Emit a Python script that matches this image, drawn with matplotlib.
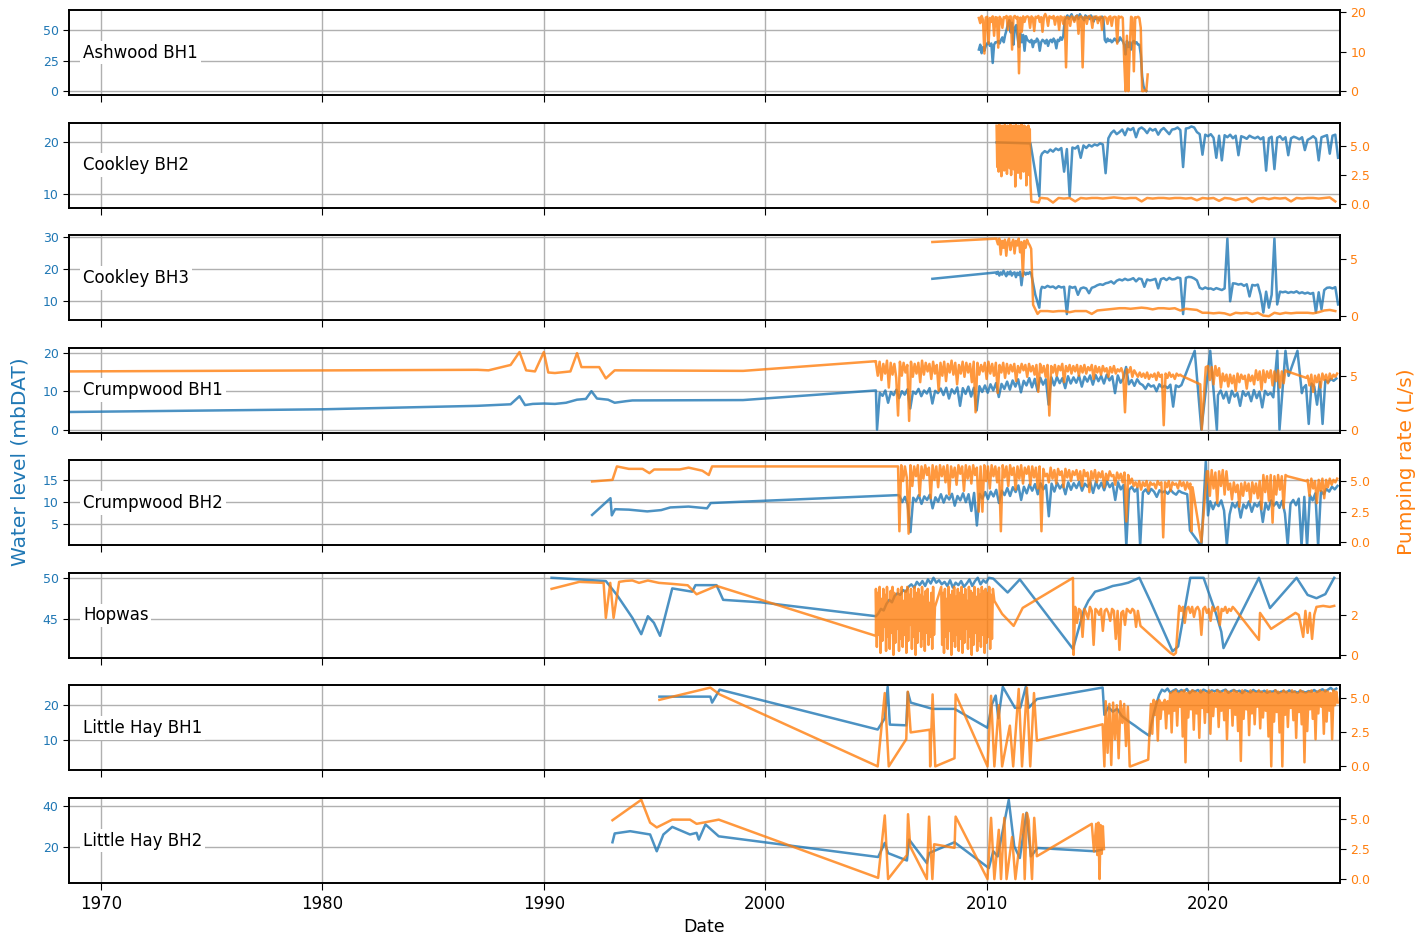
import numpy as np
import pandas as pd
import matplotlib
matplotlib.use("Agg")
import matplotlib.pyplot as plt
import matplotlib.dates as mdates
from matplotlib.ticker import FormatStrFormatter

BLUE = "#1f77b4"
ORANGE = "#ff7f0e"

# ---------------------------------------------------------------------------
# Borehole records: water level (mbDAT) and pumping rate (L/s).
# Regular runs are given as start year + step + values, sparse readings as
# (decimal year, value) pairs.
# ---------------------------------------------------------------------------

# Ashwood BH1
ashwood_start = 2009.65
ashwood_level = [34, 38, 31, 36, 33, 37,
                 39, 40, 37, 39, 23, 38, 40,
                 40, 41, 39, 42, 44, 40, 46,
                 50, 55, 58, 48, 56, 38, 52, 54,
                 44, 36, 47, 40, 46, 33, 45, 42,
                 41, 40, 42, 36, 41, 40, 43, 41, 33, 40, 42, 41, 39, 42, 37, 41, 42, 40, 43, 41, 35, 42, 41, 44, 42, 45,
                 58, 60, 62, 59, 61, 63, 60, 58, 61, 62, 59, 63, 61, 60, 58, 62, 60, 61, 59, 62, 60, 57, 61, 59, 60, 58, 60, 61, 59,
                 42, 40, 43, 41, 42, 40, 41, 43, 42, 40, 41, 44, 42, 41,
                 38, 30, 41, 36, 40, 34, 40, 41, 39, 40, 38,
                 38, 30, 12, 4, 1, 0]
ashwood_rate = [18.5, 17.2, 19.0, 18.0, 9.5, 18.6,
                18.8, 12.0, 18.5, 17.5, 18.9, 14.0, 18.7,
                18.6, 11.0, 18.8, 18.2, 16.0, 18.7, 18.5,
                19.0, 15.5, 18.8, 18.9, 10.5, 18.7, 19.0, 18.4,
                18.8, 4.5, 18.6, 15.0, 18.9, 17.5, 18.7, 18.9,
                18.7, 16.0, 18.9, 18.5, 15.2, 18.8, 18.6, 19.0, 17.5, 18.7, 15.0, 18.8, 19.5, 18.6, 16.5, 18.9,
                18.7, 18.4, 19.0, 16.8, 18.6, 18.8, 15.5, 18.9, 18.7, 17.0,
                18.8, 6.0, 18.7, 18.5, 16.5, 18.9, 18.6, 17.5, 18.8, 19.0, 14.5, 18.7, 18.9, 6.0, 18.6,
                18.8, 17.0, 18.7, 19.0, 18.5, 16.0, 18.8, 18.6, 18.9, 17.2, 18.7, 18.8, 15.5, 18.6,
                18.8, 18.5, 17.0, 18.7, 18.9, 16.5, 18.6, 18.8, 18.7, 12.0, 18.9, 18.6, 18.8, 18.5,
                8.0, 0.0, 14.0, 0.0, 10.0, 18.8, 18.5, 5.0, 18.7, 18.6, 18.8,
                18.5, 16.0, 0.0, 0.0, 0.2, 0.0, 4.2]

# Cookley BH2
cookley2_level_early = [(2010.45, 20.0), (2011.98, 19.8), (2012.38, 9.5), (2012.45, 17.2)]
cookley2_level_start = 2012.5
cookley2_level = [17.8, 18.3, 18.0, 18.6,
                  18.2, 18.8, 18.5, 18.9, 14.3, 18.7, 9.5, 19.0,
                  18.8, 19.3, 17.0, 19.4, 18.9, 19.5, 19.2, 19.6,
                  19.4, 19.8, 19.6, 14.0, 20.8, 21.8, 22.3, 21.6,
                  22.0, 22.5, 21.4, 22.7, 22.4, 22.8, 21.0, 22.6,
                  22.9, 22.5, 21.8, 22.7, 22.3, 22.6, 21.5, 22.4,
                  22.8, 22.2, 21.6, 22.5, 22.6, 22.9, 22.4, 15.2,
                  22.7, 22.8, 23.1, 22.9, 22.0, 21.6, 17.6, 21.5,
                  21.2, 21.6, 20.9, 17.0, 21.3, 16.5, 21.4, 21.0,
                  21.5, 20.8, 21.3, 17.5, 21.2, 21.0, 20.7, 21.3,
                  21.0, 20.8, 21.1, 20.6, 21.0, 14.5, 20.8, 21.1,
                  14.8, 20.9, 21.2, 20.5, 21.0, 17.5, 20.8, 21.1,
                  20.9, 20.6, 21.0, 18.5, 20.5, 20.8, 21.2, 20.7,
                  16.5, 21.0, 21.2, 21.4, 17.8, 21.3, 21.5, 17.0]
cookley2_rate_start = 2010.45
cookley2_rate_early = [6.8, 3.2, 6.7, 2.8, 6.9, 3.5, 6.6, 2.4, 6.8, 3.8, 6.7, 2.9, 6.9, 3.3, 6.5, 2.6,
                       6.8, 4.0, 6.7, 3.1, 6.9, 2.5, 6.6, 3.6, 6.8, 3.0, 6.7, 1.5, 6.9, 3.4, 6.6, 2.7,
                       6.8, 3.9, 6.7, 2.2, 6.9, 3.2, 6.5, 2.8, 6.8, 3.5, 6.7, 1.6, 6.6, 3.0, 6.8, 2.5,
                       6.5, 1.7]
cookley2_rate_drop = [(2012.02, 0.2), (2012.35, 0.1), (2012.42, 0.5)]
cookley2_rate_late_start = 2012.5
cookley2_rate_late = [0.5, 0.45, 0.1, 0.5, 0.45, 0.5, 0.2, 0.5, 0.45, 0.5, 0.5, 0.45,
                      0.5, 0.55, 0.5, 0.45, 0.5, 0.5, 0.2, 0.5, 0.45, 0.5, 0.5, 0.45,
                      0.5, 0.5, 0.45, 0.5, 0.3, 0.5, 0.45, 0.5, 0.25, 0.5, 0.45, 0.3,
                      0.45, 0.5, 0.15, 0.45, 0.5, 0.4, 0.5, 0.45, 0.5, 0.2, 0.5, 0.45,
                      0.5, 0.5, 0.45, 0.5, 0.55, 0.2]

# Cookley BH3
cookley3_level_early = [(2007.55, 17.0), (2010.45, 19.0)]
cookley3_level_mid_start = 2010.45
cookley3_level_mid = [18.5, 19.2, 18.0, 19.0, 18.3, 19.5, 18.6, 17.8, 19.1, 18.4, 19.3, 18.0, 18.8,
                      19.0, 17.5, 18.9, 18.2, 19.2, 15.0, 18.6, 19.0, 18.3, 18.9, 18.5, 19.1, 18.7]
cookley3_level_drop = [(2012.2, 12.0), (2012.38, 8.0), (2012.45, 13.5)]
cookley3_level_late_start = 2012.5
cookley3_level_late = [14.5, 14.2, 14.8, 14.4, 14.6, 14.0, 14.7, 14.3,
                       14.5, 6.0, 14.6, 14.2, 14.5, 12.0, 14.0, 14.3,
                       14.0, 12.5, 14.2, 14.5, 15.0, 15.3, 15.1, 15.6,
                       15.8, 16.2, 15.5, 16.4, 16.8, 16.5, 17.0, 16.6,
                       16.8, 17.2, 16.2, 17.1, 16.9, 14.5, 16.8, 16.5,
                       16.7, 17.0, 14.0, 16.9, 17.2, 16.6, 17.3, 16.8,
                       16.9, 17.4, 17.2, 6.0, 17.3, 17.6, 17.5, 17.1,
                       16.5, 14.2, 13.8, 14.3, 13.9, 14.0, 13.6, 14.1,
                       13.8, 13.5, 14.0, 29.5, 10.0, 15.6, 15.5, 15.2,
                       15.4, 14.8, 15.3, 11.5, 15.1, 14.9, 15.2, 12.0,
                       6.5, 13.0, 8.0, 12.0, 29.5, 9.0, 13.0, 12.8,
                       13.0, 12.6, 12.9, 12.7, 13.1, 12.5, 12.8, 12.4,
                       12.7, 12.3, 12.6, 6.5, 12.8, 7.5, 13.5, 14.2,
                       14.3, 14.0, 14.4, 9.0]
cookley3_rate_early = [(2007.55, 6.5), (2010.45, 6.8)]
cookley3_rate_mid_start = 2010.45
cookley3_rate_mid = [6.7, 6.3, 6.8, 5.4, 6.6, 6.0, 6.7, 5.3, 6.5, 6.8, 5.8, 6.4, 6.7,
                     5.5, 6.6, 6.2, 6.8, 5.6, 6.5, 3.5, 6.6, 6.0, 6.7, 6.4, 6.2, 5.9]
cookley3_rate_drop = [(2012.1, 1.0), (2012.3, 0.2), (2012.42, 0.45)]
cookley3_rate_late_start = 2012.5
cookley3_rate_late = [0.45, 0.45, 0.4, 0.45, 0.45, 0.35, 0.45, 0.45, 0.45, 0.2, 0.5, 0.55,
                      0.6, 0.65, 0.7, 0.7, 0.65, 0.7, 0.75, 0.7, 0.6, 0.7, 0.7, 0.65,
                      0.7, 0.5, 0.65, 0.6, 0.55, 0.3, 0.3, 0.25, 0.3, 0.25, 0.1, 0.3,
                      0.25, 0.3, 0.2, 0.3, 0.05, 0.0, 0.3, 0.2, 0.3, 0.25, 0.3, 0.3,
                      0.3, 0.25, 0.35, 0.5, 0.55, 0.45]

# Crumpwood BH1
crump1_level_early = [(1968.6, 4.6), (1980.0, 5.3), (1987.0, 6.2), (1988.5, 6.6), (1988.9, 8.7),
                      (1989.15, 6.4), (1989.5, 6.7), (1990.0, 6.8), (1990.5, 6.7), (1991.0, 7.0),
                      (1991.5, 7.8), (1991.9, 8.0), (1992.15, 10.0), (1992.4, 8.1), (1992.9, 7.8),
                      (1993.2, 7.0), (1993.7, 7.4), (1994.0, 7.6), (1999.0, 7.7), (2005.0, 10.2)]
crump1_level_a_start = 2005.05
crump1_level_a = [0.0, 9.6, 8.8, 10.2, 7.0, 9.8, 9.0, 10.4,
                  8.2, 10.0, 9.1, 10.5, 5.5, 9.9, 9.3, 10.6,
                  8.7, 10.2, 9.4, 10.8, 6.8, 10.1, 9.5, 10.7,
                  9.0, 10.9, 8.1, 10.5, 9.4, 11.0, 6.2, 10.8,
                  9.3, 11.2, 8.6, 10.9, 5.0, 11.3, 9.8, 11.5,
                  9.6, 11.8, 10.2, 12.1, 8.5, 11.9, 10.6, 12.5,
                  10.4, 12.8, 11.2, 13.1, 9.7, 12.7, 11.5, 13.4,
                  11.0, 13.2, 10.1, 13.5, 11.7, 13.1, 6.5, 13.6,
                  11.5, 13.7, 12.1, 13.4, 10.8, 13.9, 12.0, 13.6,
                  12.2, 14.0, 11.2, 13.8, 12.5, 14.1, 11.7, 14.2,
                  12.6, 14.0, 12.0, 14.3, 12.8, 13.9, 9.5, 14.1,
                  12.2, 13.3, 16.3, 11.8, 12.9, 11.4, 13.1, 12.0,
                  11.6, 10.6, 11.9, 11.2, 11.5, 10.0, 11.8, 11.0,
                  11.4, 10.8, 11.7, 6.0, 11.5, 11.1, 11.6]
crump1_level_swings = [(2019.4, 20.5), (2019.7, 0.0), (2020.1, 20.5), (2020.4, 0.0)]
crump1_level_b_start = 2020.45
crump1_level_b = [9.0, 10.2, 8.1, 9.8, 7.0, 10.1, 8.6, 9.5, 6.2, 10.0, 8.8, 9.7, 7.4, 10.3,
                  8.2, 9.9, 5.8, 10.1, 9.0, 9.6, 8.4]
crump1_level_spikes = [(2023.13, 20.5), (2023.23, 0.0), (2023.5, 20.5), (2023.64, 14.0),
                       (2024.04, 20.5), (2024.24, 9.5)]
crump1_level_c_start = 2024.3
crump1_level_c = [10.8, 11.6, 1.5, 12.0, 11.2, 6.5, 12.4, 1.5, 12.9, 12.3, 13.2, 12.7, 13.3]

crump1_rate_early = [(1968.6, 5.4), (1987.0, 5.55), (1987.5, 5.5), (1988.5, 6.0), (1988.9, 7.2),
                     (1989.2, 5.5), (1989.6, 5.4), (1990.0, 7.2), (1990.2, 5.3), (1990.5, 5.25),
                     (1991.2, 5.4), (1991.5, 7.1), (1991.7, 5.8), (1992.5, 5.8), (1992.8, 4.75),
                     (1993.2, 5.5), (1999.0, 5.45), (2005.0, 6.35)]
crump1_rate_a_start = 2005.0
crump1_rate_a = [6.2, 5.0, 6.3, 4.6, 6.1, 5.2, 6.4, 3.9, 6.2, 5.1, 6.1, 4.8,
                 1.3, 6.3, 5.0, 6.2, 5.3, 6.0, 0.8, 6.3, 4.9, 6.1, 5.2, 6.2,
                 4.4, 6.4, 5.1, 6.2, 5.4, 6.1, 4.7, 6.3, 5.2, 6.0, 3.6, 6.2,
                 5.0, 6.3, 4.5, 6.1, 5.3, 6.4, 5.1, 6.2, 4.2, 6.0, 5.2, 6.3,
                 4.9, 6.2, 5.3, 6.1, 4.4, 6.3, 1.6, 6.2, 5.1, 6.0, 5.4, 6.2,
                 4.7, 6.3, 5.2, 6.1, 5.0, 6.2, 3.4, 6.0, 5.3, 6.2, 4.8, 6.1,
                 5.2, 6.0, 5.4, 6.1, 4.5, 5.9, 5.3, 6.1, 5.5, 6.0, 4.9, 6.1,
                 5.4, 5.9, 5.1, 6.0, 3.5, 6.1, 5.3, 5.9, 4.9, 6.0, 1.3, 5.9,
                 5.3, 6.0, 5.0, 5.9, 5.5, 6.1, 4.4, 5.9, 5.4, 6.0, 5.2, 5.9,
                 5.4, 6.0, 5.0, 5.9, 5.3, 6.0, 5.2, 5.8, 5.5, 6.0, 4.7, 5.9,
                 5.3, 5.8, 5.1, 5.9, 5.4, 5.7, 4.9, 5.8, 5.3, 5.9, 5.2, 5.6,
                 5.4, 5.7, 5.2, 1.6, 5.6, 5.3, 5.8, 4.9, 5.5, 5.2, 4.9, 5.3,
                 4.9, 5.2, 4.8, 5.3, 4.7, 5.1, 4.9, 5.2, 4.6, 5.3, 4.9, 5.1,
                 0.4, 5.2, 4.8, 5.3, 4.9, 5.1, 4.7, 5.2, 5.0, 5.1]
crump1_rate_gap = [(2018.8, 5.0), (2019.65, 4.2), (2019.72, 0.0), (2019.9, 5.8)]
crump1_rate_b_start = 2020.0
crump1_rate_b = [5.9, 4.6, 5.8, 4.2, 5.9, 5.0, 5.7, 3.9, 5.2, 4.5, 5.1, 4.0,
                 5.1, 4.3, 5.0, 3.6, 5.2, 4.4, 5.1, 4.7, 5.0, 3.8, 5.1, 4.5,
                 5.0, 4.2, 5.5, 4.6, 5.4, 3.7, 5.5, 4.4, 5.4, 4.8, 5.5, 4.1,
                 5.4, 4.5, 5.5, 3.9, 5.4, 4.3, 5.5, 5.4]
crump1_rate_gap2 = [(2024.44, 4.8)]
crump1_rate_c_start = 2024.5
crump1_rate_c = [5.0, 4.1, 5.1, 3.5, 5.0, 4.4, 5.1, 3.9, 5.2, 4.6, 5.1, 4.3, 5.2, 4.7, 5.1, 4.9, 5.2]

# Crumpwood BH2
crump2_level_early = [(1992.18, 7.1), (1993.01, 10.9), (1993.07, 7.0), (1993.22, 8.4), (1993.84, 8.3),
                      (1994.67, 7.9), (1995.3, 8.2), (1995.71, 8.8), (1996.54, 9.0), (1997.37, 8.6),
                      (1997.54, 9.8), (2006.0, 11.6)]
crump2_level_a_start = 2006.06
crump2_level_a = [11.5, 10.0, 11.2, 9.5, 3.2, 11.0, 10.2, 11.6,
                  9.6, 11.3, 10.5, 11.7, 8.6, 11.1, 10.1, 11.8,
                  9.9, 11.5, 10.6, 11.9, 9.2, 11.4, 10.4, 12.0,
                  10.0, 11.8, 8.0, 12.1, 4.7, 11.9, 10.8, 12.3,
                  10.7, 12.4, 11.3, 12.8, 9.8, 12.6, 11.6, 13.2,
                  11.4, 13.4, 12.3, 13.8, 10.5, 13.5, 12.0, 14.0,
                  12.6, 14.1, 11.8, 14.3, 12.9, 13.9, 6.8, 14.2,
                  12.4, 14.4, 13.1, 14.0, 11.8, 14.5, 12.8, 14.3,
                  13.2, 14.6, 12.6, 14.2, 13.5, 14.5, 12.1, 14.6,
                  13.1, 14.4, 12.7, 14.7, 13.4, 14.3, 10.5, 14.5,
                  12.9, 13.9, 0.0, 12.8, 13.5, 12.4, 13.2, 0.0,
                  12.2, 12.9, 11.9, 13.0, 12.4, 11.2, 12.7, 12.2,
                  12.5, 11.9, 12.8, 12.1, 11.7, 12.6, 12.2, 12.0,
                  11.8, 3.6]
crump2_level_swing = [(2019.7, 0.0), (2019.9, 19.2), (2020.0, 7.0)]
crump2_level_b_start = 2020.1
crump2_level_b = [10.2, 8.4, 9.9, 9.1, 10.4, 8.1, 0.3, 7.2,
                  9.8, 8.8, 10.0, 6.5, 9.5, 8.6, 10.2, 7.8,
                  9.7, 9.0, 10.1, 5.5, 9.8, 8.3, 10.4, 9.2,
                  10.0, 8.7, 10.3, 7.4, 0.2, 9.6, 10.5, 9.3,
                  10.8, 0.0, 11.2, 0.0, 11.6, 10.4, 12.0, 0.0,
                  12.5, 11.8, 13.0, 12.4, 13.5, 12.9, 13.7]

crump2_rate_early = [(1992.18, 4.97), (1993.1, 5.1), (1993.3, 6.2), (1993.84, 6.0), (1994.46, 6.0),
                     (1994.77, 5.65), (1994.98, 5.95), (1996.13, 5.95), (1996.54, 6.1), (1997.16, 5.85),
                     (1997.45, 5.5), (1997.6, 6.2), (2006.0, 6.2)]
crump2_rate_a_start = 2006.06
crump2_rate_a = [0.9, 6.3, 5.0, 6.2, 5.3, 0.7, 6.3, 4.6, 6.2, 5.4, 6.3, 3.8,
                 6.2, 5.2, 6.3, 5.5, 6.1, 3.6, 6.3, 5.1, 6.2, 4.5, 6.3, 5.4,
                 6.2, 4.9, 6.3, 3.9, 6.2, 5.3, 6.1, 4.7, 6.3, 5.6, 6.2, 4.2,
                 6.3, 5.2, 6.2, 4.8, 6.3, 5.5, 6.1, 2.5, 6.2, 2.5, 6.3, 5.0,
                 6.2, 4.4, 6.3, 5.4, 6.2, 4.9, 6.1, 0.9, 6.3, 5.3, 6.2, 4.6,
                 6.3, 5.5, 6.1, 4.3, 6.2, 5.2, 6.3, 4.8, 6.1, 5.6, 6.2, 4.7,
                 6.2, 5.3, 6.1, 4.4, 6.2, 0.9, 6.0, 5.4, 5.6, 4.9, 6.1, 5.2,
                 5.9, 4.8, 6.0, 5.5, 5.8, 4.5, 6.0, 5.3, 5.9, 5.0, 5.8, 5.5,
                 5.9, 5.1, 5.8, 4.6, 5.9, 5.4, 5.7, 4.1, 5.8, 5.2, 5.9, 4.9,
                 5.7, 5.3, 5.8, 4.5, 5.6, 5.1, 5.8, 5.4, 5.5, 4.7, 5.7, 5.2,
                 5.6, 4.9, 5.7, 1.7, 5.5, 4.8, 5.2, 4.6, 4.9, 4.5, 5.0, 4.3,
                 4.9, 4.6, 5.0, 4.2, 4.9, 4.7, 4.8, 4.4, 5.0, 4.7, 4.9, 0.4,
                 4.9, 4.5, 5.0, 4.2, 4.9, 4.7, 4.8, 4.4, 5.0, 4.6, 4.9, 4.3,
                 4.9, 4.4]
crump2_rate_gap = [(2019.2, 4.8), (2019.25, 0.9), (2019.3, 4.5), (2019.7, 0.0), (2019.95, 5.8)]
crump2_rate_b_start = 2020.0
crump2_rate_b = [5.8, 3.8, 5.9, 4.4, 5.7, 3.2, 5.8, 4.6, 5.9, 3.9, 5.8, 4.3,
                 4.8, 3.5, 4.9, 4.1, 4.7, 2.9, 4.8, 3.8, 4.9, 4.2, 4.8, 3.3,
                 4.9, 4.0, 4.8, 3.6, 5.0, 2.7, 5.5, 4.1, 5.4, 3.4, 5.5, 1.6,
                 5.4, 3.9, 5.5, 4.3, 5.4, 2.8, 5.5, 5.4]
crump2_rate_gap2 = [(2024.44, 5.0)]
crump2_rate_c_start = 2024.5
crump2_rate_c = [5.1, 3.8, 5.2, 4.4, 5.0, 3.2, 5.1, 4.2, 5.2, 3.6, 5.1, 4.5, 5.2, 4.7, 5.1, 4.9, 5.2]

# Hopwas
hopwas_level_early = [(1990.35, 50.0), (1992.8, 49.6), (1993.3, 47.9), (1994.0, 45.1), (1994.4, 43.1),
                      (1994.7, 45.3), (1994.97, 44.5), (1995.25, 42.9), (1995.8, 48.7), (1996.7, 48.3),
                      (1996.85, 49.1), (1997.8, 49.1), (1998.1, 47.3), (1999.8, 47.0), (2005.0, 45.3)]
hopwas_level_mid_start = 2005.1
hopwas_level_mid = [45.6, 46.2, 46.0, 46.8, 47.3, 47.0, 47.8, 48.1,
                    47.9, 48.5, 48.3, 48.9, 49.2, 48.8, 49.5, 49.1,
                    49.6, 49.0, 49.8, 49.3, 50.0, 49.4, 49.7, 49.2,
                    49.5, 49.0, 49.7, 48.8, 49.4, 49.1, 49.6, 48.9,
                    49.3, 49.8, 49.0, 49.6, 50.0, 49.2, 49.7, 49.4,
                    50.0]
hopwas_level_late = [(2010.3, 49.9), (2010.95, 48.2), (2011.5, 49.8), (2013.9, 41.3), (2014.4, 46.1),
                     (2014.6, 47.2), (2014.9, 48.3), (2015.3, 48.6), (2015.7, 49.0), (2016.1, 49.2),
                     (2016.4, 49.4), (2016.9, 50.0), (2017.4, 47.1), (2018.4, 41.0), (2018.65, 41.6),
                     (2019.2, 50.0), (2019.8, 50.0), (2020.35, 45.7), (2020.6, 43.4), (2020.7, 41.4),
                     (2022.3, 50.0), (2022.8, 46.3), (2024.0, 50.0), (2024.5, 47.9), (2024.9, 47.5),
                     (2025.3, 48.0), (2025.7, 50.0)]
hopwas_rate_early = [(1990.35, 3.3), (1991.6, 3.65), (1992.7, 3.6), (1992.8, 1.85), (1993.0, 3.6),
                     (1993.15, 1.85), (1993.4, 3.65), (1993.7, 3.7), (1994.0, 3.72), (1994.3, 3.6),
                     (1994.7, 3.72), (1995.2, 3.6), (1995.8, 3.55), (1996.5, 3.48), (1996.9, 3.03),
                     (1997.8, 3.45), (2005.0, 0.95)]
hopwas_rate_a_start = 2005.0
hopwas_rate_a = [3.3, 0.4, 3.1, 1.0, 3.4, 0.1, 2.8, 0.7, 3.3, 1.4, 3.0, 0.2, 3.4, 0.9, 2.6, 0.3,
                 3.2, 1.1, 3.4, 0.0, 3.1, 0.6, 2.9, 1.3, 3.3, 0.2, 3.0, 0.8, 3.4, 0.4, 2.7, 1.0,
                 3.2, 0.1, 3.4, 0.7, 3.0, 1.5, 3.3, 0.3, 2.8, 0.9, 3.4, 0.0, 3.1, 0.6, 3.3, 1.2,
                 3.0, 0.4, 3.4, 0.8, 2.9, 0.2, 3.2, 1.1, 3.3, 0.5, 2.6, 0.9, 3.1, 0.3, 3.4, 1.0, 2.4]
hopwas_rate_b_start = 2007.95
hopwas_rate_b = [3.4, 0.5, 3.1, 0.1, 3.3, 0.9, 2.8, 0.3, 3.4, 1.2, 3.0, 0.0, 3.2, 0.7, 3.4, 0.4,
                 2.9, 1.0, 3.3, 0.2, 3.1, 0.8, 3.4, 0.1, 3.0, 0.6, 3.3, 1.3, 2.7, 0.3, 3.4, 0.9,
                 3.2, 0.0, 3.1, 0.5, 3.4, 1.1, 2.9, 0.2, 3.3, 0.7, 3.0, 0.4, 3.4, 1.0, 3.2, 0.1,
                 3.3, 0.6, 3.1, 0.9, 3.4, 0.3, 3.0, 0.8, 3.3]
hopwas_rate_mid = [(2010.35, 2.7), (2010.7, 2.05), (2011.22, 1.45), (2011.63, 2.35), (2013.9, 3.85),
                   (2013.93, 0.0)]
hopwas_rate_c_start = 2014.0
hopwas_rate_c = [2.4, 1.6, 2.3, 2.2, 0.9, 2.3, 2.1, 1.8, 2.4, 2.2, 0.5, 2.3,
                 2.2, 2.0, 2.3, 1.2, 2.2, 2.3, 2.1, 1.7, 2.3, 2.2, 0.8, 2.2,
                 0.25, 2.1, 2.2, 1.5, 2.3, 2.2, 2.1, 2.3, 2.2, 1.4, 2.2]
hopwas_rate_gap = [(2016.95, 1.45), (2018.3, 0.1), (2018.45, 0.0), (2018.55, 0.1)]
hopwas_rate_d_start = 2018.7
hopwas_rate_d = [2.45, 2.2, 2.4, 1.6, 2.3, 2.4, 2.1, 2.4, 1.9, 2.3, 2.4, 2.2,
                 1.0, 2.3, 2.4, 2.1, 2.3, 1.7, 2.4, 2.2, 2.3, 2.4, 1.5, 2.3,
                 2.2, 2.4, 2.1, 2.3, 2.2, 2.4, 2.3]
hopwas_rate_late = [(2022.3, 0.75), (2022.35, 2.1), (2022.85, 1.3), (2023.95, 2.1), (2024.1, 2.0),
                    (2024.3, 0.9), (2024.4, 2.2), (2024.5, 1.1), (2024.6, 2.1), (2024.7, 0.8),
                    (2024.8, 2.0), (2024.9, 2.4), (2025.2, 2.45), (2025.5, 2.4), (2025.7, 2.45)]

# Little Hay BH1
lh1_level_early = [(1995.22, 22.5), (1997.52, 22.5), (1997.6, 20.8), (1997.94, 24.5), (2005.08, 13.1),
                   (2005.4, 16.3), (2005.53, 25.3), (2005.63, 14.5), (2006.37, 14.3), (2006.44, 23.8),
                   (2006.57, 20.8), (2007.56, 19.0), (2008.55, 19.0), (2010.04, 13.6), (2010.24, 20.3),
                   (2010.41, 22.8), (2010.53, 16.3), (2010.73, 25.3), (2011.28, 19.3), (2011.52, 19.3),
                   (2011.77, 25.3), (2011.9, 19.3), (2012.27, 21.8), (2015.24, 25.1), (2015.32, 17.3),
                   (2015.5, 19.5), (2015.7, 18.2), (2015.9, 19.0), (2016.1, 17.0), (2016.4, 15.5),
                   (2016.7, 14.2), (2017.0, 12.8), (2017.35, 11.3)]
lh1_level_start = 2017.42
lh1_level = [14.0, 17.5, 20.5, 23.0, 24.5, 24.0, 24.8, 23.6,
             24.2, 24.6, 23.8, 24.4, 24.0, 24.7, 23.5, 24.3,
             24.0, 24.4, 23.7, 24.5, 24.1, 23.6, 24.3, 24.0,
             24.4, 23.8, 24.2, 24.5, 23.6, 24.1, 24.4, 23.9,
             24.2, 23.5, 24.3, 24.0, 23.7, 24.4, 23.9, 24.1,
             23.8, 24.2, 23.6, 24.0, 23.9, 24.3, 23.5, 23.9,
             24.1, 23.7, 24.3, 23.8, 24.0, 23.6, 24.2, 23.9,
             23.7, 24.1, 23.9, 24.4, 23.8, 24.2, 24.6, 24.0,
             24.5, 25.0, 24.3, 24.8]
lh1_rate_early = [(1995.22, 4.9), (1997.52, 5.8), (1997.94, 5.3), (2005.08, 0.0), (2005.4, 5.4),
                  (2005.58, 0.0), (2006.37, 2.0), (2006.44, 5.5), (2006.57, 2.5), (2007.43, 2.7),
                  (2007.45, 0.0), (2007.56, 5.3), (2007.68, 0.0), (2008.55, 0.6), (2008.6, 5.3),
                  (2010.04, 0.0), (2010.2, 5.2), (2010.35, 0.0), (2010.55, 4.5), (2010.7, 0.0),
                  (2011.05, 3.0), (2011.2, 0.0), (2011.45, 5.7), (2011.6, 0.0), (2011.82, 5.8),
                  (2011.97, 0.0), (2012.14, 5.4), (2012.27, 1.9), (2015.24, 3.1), (2015.32, 0.0)]
lh1_rate_mid_start = 2015.38
lh1_rate_mid = [4.8, 1.0, 4.6, 0.1, 4.7, 2.0, 4.5, 0.6, 4.8, 3.2, 4.6, 1.5, 4.4, 0.0]
lh1_rate_gap = [(2016.5, 0.0), (2017.3, 0.5)]
lh1_rate_start = 2017.42
lh1_rate = [4.6, 2.4, 4.9, 3.8, 4.8, 1.9, 4.9, 3.5, 4.7, 4.2, 4.9, 2.8, 4.8, 3.9, 5.4, 2.5,
            5.5, 4.1, 5.6, 3.0, 5.4, 4.4, 5.5, 2.2, 5.6, 0.3, 5.4, 3.6, 5.5, 4.2, 5.6, 2.7,
            5.5, 3.9, 5.4, 2.1, 5.6, 4.3, 5.5, 3.2, 5.4, 4.0, 5.6, 2.4, 5.5, 3.7, 5.4, 4.4,
            5.6, 2.9, 5.5, 4.1, 5.4, 3.4, 5.6, 2.0, 5.5, 4.3, 5.4, 3.0, 5.6, 3.8, 5.5, 2.6,
            5.4, 0.4, 5.6, 3.5, 5.5, 4.2, 5.4, 2.3, 5.6, 3.9, 5.5, 3.1, 5.4, 4.4, 5.6, 2.8,
            5.5, 3.6, 5.4, 4.1, 5.6, 2.2, 5.5, 0.0, 5.4, 3.3, 5.6, 4.0, 5.5, 2.5, 5.4, 0.0,
            5.6, 3.8, 5.5, 2.9, 5.4, 4.3, 5.6, 3.4, 5.5, 2.1, 5.4, 4.0, 5.6, 3.1, 5.5, 0.3,
            5.4, 2.6, 5.5, 4.2, 5.6, 3.5, 5.4, 2.0, 5.5, 3.9, 5.6, 4.4, 5.5, 2.4, 5.6, 3.3,
            5.5, 4.1, 5.4, 2.0, 5.6, 4.5, 5.5, 4.7]

# Little Hay BH2
lh2_level = [(1993.1, 22.3), (1993.2, 26.6), (1993.9, 27.7), (1994.8, 26.1), (1995.1, 17.9),
             (1995.4, 26.1), (1995.8, 29.8), (1996.6, 26.1), (1996.9, 26.9), (1997.0, 23.6),
             (1997.3, 31.0), (1997.9, 25.2), (2005.1, 15.1), (2005.4, 22.0), (2005.55, 17.0),
             (2006.4, 13.4), (2006.5, 23.6), (2007.3, 12.1), (2007.4, 17.0), (2008.55, 22.3),
             (2010.1, 9.7), (2010.3, 17.9), (2010.5, 15.4), (2011.0, 43.0), (2011.25, 20.3),
             (2011.5, 14.6), (2011.8, 36.7), (2012.0, 15.4), (2012.3, 19.5), (2014.9, 17.9),
             (2015.2, 18.7)]
lh2_rate = [(1993.1, 4.9), (1994.4, 6.6), (1994.8, 4.7), (1995.1, 4.3), (1995.8, 4.95),
            (1996.6, 4.95), (1996.9, 4.6), (1997.2, 4.7), (1997.9, 4.95), (2005.1, 0.1),
            (2005.4, 5.3), (2005.55, 0.0), (2006.4, 2.0), (2006.45, 5.4), (2006.55, 2.7),
            (2007.3, 0.0), (2007.4, 5.2), (2007.55, 0.0), (2007.63, 2.9), (2008.55, 2.6),
            (2008.6, 5.2), (2010.04, 0.0), (2010.2, 5.1), (2010.35, 0.0), (2010.55, 4.1),
            (2010.65, 0.0), (2010.8, 5.1), (2010.9, 0.0), (2011.15, 3.5), (2011.3, 0.0),
            (2011.65, 5.4), (2011.72, 0.0), (2011.82, 5.5), (2011.9, 4.9), (2012.05, 0.0),
            (2012.15, 5.1), (2012.27, 1.9), (2014.75, 4.6), (2014.85, 2.3), (2014.95, 4.6),
            (2015.0, 2.0), (2015.05, 4.7), (2015.1, 0.0), (2015.15, 4.5), (2015.2, 2.1),
            (2015.25, 4.4), (2015.3, 2.5)]

borehole_names = ["Ashwood BH1", "Cookley BH2", "Cookley BH3", "Crumpwood BH1",
                  "Crumpwood BH2", "Hopwas", "Little Hay BH1", "Little Hay BH2"]


# ---------------------------------------------------------------------------
def regular(start, values, step):
    values = np.asarray(values, dtype=float)
    return start + step * np.arange(len(values)), values


def readings(points):
    arr = np.asarray(points, dtype=float)
    return arr[:, 0], arr[:, 1]


def join(*parts):
    return (np.concatenate([p[0] for p in parts]),
            np.concatenate([p[1] for p in parts]))


def to_dates(years):
    years = np.asarray(years, dtype=float)
    return pd.Timestamp("1970-01-01") + pd.to_timedelta((years - 1970.0) * 365.2425, unit="D")


level_series = [
    regular(ashwood_start, ashwood_level, 1 / 16),
    join(readings(cookley2_level_early), regular(cookley2_level_start, cookley2_level, 1 / 8)),
    join(readings(cookley3_level_early), regular(cookley3_level_mid_start, cookley3_level_mid, 1 / 16),
         readings(cookley3_level_drop), regular(cookley3_level_late_start, cookley3_level_late, 1 / 8)),
    join(readings(crump1_level_early), regular(crump1_level_a_start, crump1_level_a, 1 / 8),
         readings(crump1_level_swings), regular(crump1_level_b_start, crump1_level_b, 1 / 8),
         readings(crump1_level_spikes), regular(crump1_level_c_start, crump1_level_c, 1 / 8)),
    join(readings(crump2_level_early), regular(crump2_level_a_start, crump2_level_a, 1 / 8),
         readings(crump2_level_swing), regular(crump2_level_b_start, crump2_level_b, 1 / 8)),
    join(readings(hopwas_level_early), regular(hopwas_level_mid_start, hopwas_level_mid, 1 / 8),
         readings(hopwas_level_late)),
    join(readings(lh1_level_early), regular(lh1_level_start, lh1_level, 1 / 8)),
    readings(lh2_level),
]

rate_series = [
    regular(ashwood_start, ashwood_rate, 1 / 16),
    join(regular(cookley2_rate_start, cookley2_rate_early, 1 / 32), readings(cookley2_rate_drop),
         regular(cookley2_rate_late_start, cookley2_rate_late, 1 / 4)),
    join(readings(cookley3_rate_early), regular(cookley3_rate_mid_start, cookley3_rate_mid, 1 / 16),
         readings(cookley3_rate_drop), regular(cookley3_rate_late_start, cookley3_rate_late, 1 / 4)),
    join(readings(crump1_rate_early), regular(crump1_rate_a_start, crump1_rate_a, 1 / 12),
         readings(crump1_rate_gap), regular(crump1_rate_b_start, crump1_rate_b, 1 / 12),
         readings(crump1_rate_gap2), regular(crump1_rate_c_start, crump1_rate_c, 1 / 12)),
    join(readings(crump2_rate_early), regular(crump2_rate_a_start, crump2_rate_a, 1 / 12),
         readings(crump2_rate_gap), regular(crump2_rate_b_start, crump2_rate_b, 1 / 12),
         readings(crump2_rate_gap2), regular(crump2_rate_c_start, crump2_rate_c, 1 / 12)),
    join(readings(hopwas_rate_early), regular(hopwas_rate_a_start, hopwas_rate_a, 1 / 24),
         regular(hopwas_rate_b_start, hopwas_rate_b, 1 / 24), readings(hopwas_rate_mid),
         regular(hopwas_rate_c_start, hopwas_rate_c, 1 / 12), readings(hopwas_rate_gap),
         regular(hopwas_rate_d_start, hopwas_rate_d, 1 / 12), readings(hopwas_rate_late)),
    join(readings(lh1_rate_early), regular(lh1_rate_mid_start, lh1_rate_mid, 1 / 12),
         readings(lh1_rate_gap), regular(lh1_rate_start, lh1_rate, 1 / 16)),
    readings(lh2_rate),
]

# axis set-up per panel: (left ticks, left limits, right ticks, right limits, right format)
panel_axes = [
    ([0, 25, 50], (-3.3, 66.4), [0, 10, 20], (-1.0, 20.5), "%d"),
    ([10, 20], (7.3, 23.85), [0, 2.5, 5], (-0.34, 7.07), "%.1f"),
    ([10, 20, 30], (4.1, 30.6), [0, 5], (-0.35, 7.1), "%d"),
    ([0, 10, 20], (-0.8, 21.3), [0, 5], (-0.3, 7.6), "%d"),
    ([5, 10, 15], (0.2, 19.5), [0, 2.5, 5], (-0.25, 6.7), "%.1f"),
    ([45, 50], (40.2, 50.6), [0, 2], (-0.15, 4.1), "%d"),
    ([10, 20], (1.4, 25.7), [0, 2.5, 5], (-0.3, 5.96), "%.1f"),
    ([20, 40], (2.4, 43.9), [0, 2.5, 5], (-0.33, 6.75), "%.1f"),
]

fig = plt.figure(figsize=(14.22, 9.38), dpi=100)
axes = fig.subplots(len(borehole_names), 1, sharex=True)
fig.subplots_adjust(left=0.0485, right=0.9423, top=0.9893, bottom=0.0586, hspace=0.324)

for ax, name, lvl, rate, spec in zip(axes, borehole_names, level_series, rate_series, panel_axes):
    lticks, llim, rticks, rlim, rfmt = spec
    ax.plot(to_dates(lvl[0]), lvl[1], color=BLUE, lw=1.8, alpha=0.8)
    tw = ax.twinx()
    tw.plot(to_dates(rate[0]), rate[1], color=ORANGE, lw=1.8, alpha=0.8)

    ax.set_ylim(*llim)
    ax.set_yticks(lticks)
    tw.set_ylim(*rlim)
    tw.set_yticks(rticks)
    tw.yaxis.set_major_formatter(FormatStrFormatter(rfmt))

    ax.tick_params(axis="y", labelcolor=BLUE, labelsize=9, length=4)
    tw.tick_params(axis="y", labelcolor=ORANGE, labelsize=9, length=4)
    ax.tick_params(axis="x", labelsize=12, length=5)
    ax.grid(True, color="#b0b0b0", lw=1.0)
    for a in (ax, tw):
        for sp in a.spines.values():
            sp.set_linewidth(1.2)

    tw.text(0.011, 0.5, name, transform=ax.transAxes, ha="left", va="center", fontsize=12,
            zorder=10, bbox=dict(facecolor="white", edgecolor="none", pad=2))

axes[0].set_xlim(to_dates([1968.55, 2025.96]))
axes[-1].xaxis.set_major_locator(mdates.YearLocator(10))
axes[-1].xaxis.set_major_formatter(mdates.DateFormatter("%Y"))
axes[-1].set_xlabel("Date", fontsize=12.5)

fig.text(0.014, 1 - 462 / 938, "Water level (mbDAT)", rotation=90, ha="center", va="center",
         color=BLUE, fontsize=14.5)
fig.text(0.989, 1 - 462 / 938, "Pumping rate (L/s)", rotation=90, ha="center", va="center",
         color=ORANGE, fontsize=14.5)

fig.savefig("out.png", dpi=100)
